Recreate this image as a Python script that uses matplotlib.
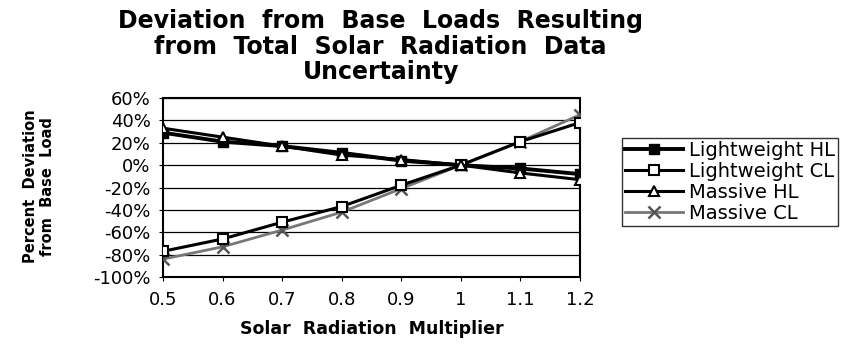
import numpy as np
import matplotlib
matplotlib.use("Agg")
import matplotlib.pyplot as plt
from matplotlib.ticker import PercentFormatter

plt.rcParams["axes.unicode_minus"] = False

# data
multipliers = ["0.5", "0.6", "0.7", "0.8", "0.9", "1", "1.1", "1.2"]
lightweight_hl = [29, 21, 17, 11, 4, 0, -3, -8]
lightweight_cl = [-77, -66, -51, -37, -18, 0, 21, 38]
massive_hl = [33, 25, 17, 9, 5, 0, -7, -13]
massive_cl = [-84, -73, -58, -42, -21, 0, 21, 45]

x = np.arange(len(multipliers))

fig = plt.figure(figsize=(8.65, 3.45), dpi=100)
ax = fig.add_axes([0.1884, 0.197, 0.482, 0.519])

ax.plot(x, lightweight_hl, color="black", lw=2.8, marker="s", ms=6.5,
        mfc="black", mec="black", label="Lightweight HL", zorder=3)
ax.plot(x, lightweight_cl, color="black", lw=2.2, marker="s", ms=6.5,
        mfc="white", mec="black", mew=1.5, label="Lightweight CL", zorder=4)
ax.plot(x, massive_hl, color="black", lw=2.2, marker="^", ms=7.5,
        mfc="white", mec="black", mew=1.5, label="Massive HL", zorder=4)
ax.plot(x, massive_cl, color="#777777", lw=2.0, marker="x", ms=9,
        mec="#555555", mew=1.8, label="Massive CL", zorder=3)

ax.set_xlim(0, len(multipliers) - 1)
ax.set_ylim(-100, 60)
ax.set_yticks(np.arange(-100, 61, 20))
ax.yaxis.set_major_formatter(PercentFormatter(decimals=0))
ax.set_xticks(x)
ax.set_xticklabels(multipliers)
ax.tick_params(axis="both", labelsize=13, length=3, direction="out")
ax.tick_params(axis="x", pad=7)
ax.tick_params(axis="y", pad=6)

ax.grid(axis="y", color="black", lw=0.9)
for s in ax.spines.values():
    s.set_linestyle((0, (1, 1)))
    s.set_linewidth(1.5)

ax.set_xlabel("Solar  Radiation  Multiplier", fontsize=12.5, fontweight="bold",
              labelpad=8)
fig.text(0.045, 0.46, "Percent  Deviation\nfrom  Base  Load", rotation=90,
         ha="center", va="center", fontsize=10.5, fontweight="bold",
         linespacing=1.2)

fig.text(0.44, 0.975, "Deviation  from  Base  Loads  Resulting\nfrom  Total  Solar  Radiation  Data\nUncertainty",
         ha="center", va="top", fontsize=17, fontweight="bold",
         linespacing=1.1)

leg = ax.legend(loc="center left", bbox_to_anchor=(1.1, 0.53), frameon=True,
                fancybox=False, edgecolor="black", fontsize=14,
                handlelength=3.0, borderpad=0.15, labelspacing=0.1,
                handletextpad=0.3, borderaxespad=0)
leg.get_frame().set_linewidth(1)

plt.savefig("out.png", dpi=100)
plt.close()
